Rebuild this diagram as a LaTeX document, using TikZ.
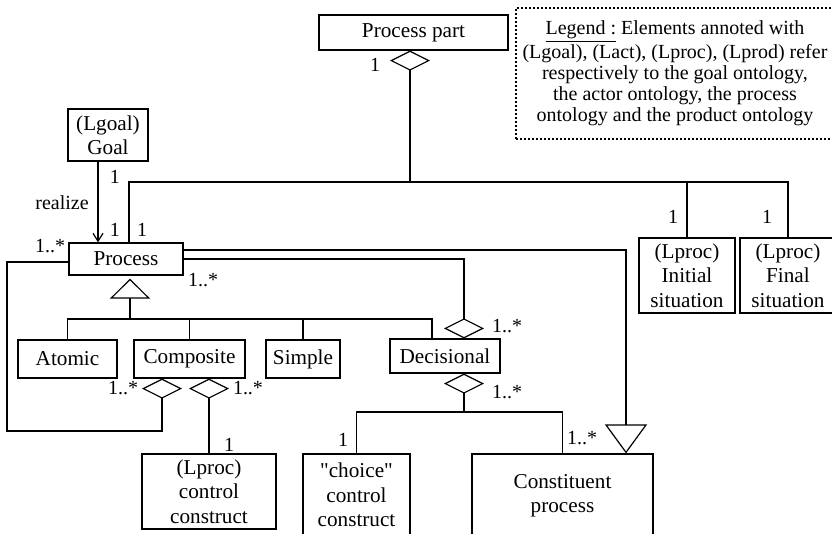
\documentclass[tikz,border=0pt]{standalone}
\usepackage{fontspec}
\setmainfont{Liberation Serif}
\usetikzlibrary{arrows.meta}

\begin{document}
\begin{tikzpicture}[x=0.5pt,y=-0.5pt,line width=0.6pt,
 font=\fontsize{10}{12.2}\selectfont,
 cls/.style={draw,align=center,inner sep=0pt,font=\fontsize{10.6}{12.2}\selectfont},
 mult/.style={inner sep=0pt},
 agg/.style={-{Diamond[open,length=10pt,width=20pt]}},
 gen/.style={-{Triangle[open,length=10pt,width=20pt]}}]
\clip (0,0) rectangle (832,534);
% classes
\node[cls,minimum width=94.5pt,minimum height=17.5pt] (part) at (413.5,32.5) {Process part};
\node[cls,minimum width=40pt,minimum height=26pt] (goal) at (108,135) {(Lgoal)\\Goal};
\node[cls,minimum width=57pt,minimum height=16pt] (proc) at (126,259) {Process};
\node[cls,minimum width=48pt,minimum height=37.5pt] (initial) at (687,275.5) {(Lproc)\\Initial\\situation};
\node[cls,minimum width=48pt,minimum height=37.5pt] (final) at (788,275.5) {(Lproc)\\Final\\situation};
\node[cls,minimum width=49.5pt,minimum height=19pt] (atomic) at (67.5,359) {Atomic};
\node[cls,minimum width=55.5pt,minimum height=19pt] (composite) at (189.5,359) {Composite};
\node[cls,minimum width=37pt,minimum height=19pt] (simple) at (303,359) {Simple};
\node[cls,minimum width=55pt,minimum height=17pt] (decisional) at (445,356) {Decisional};
\node[cls,minimum width=67pt,minimum height=37.5pt] (lproc) at (209,491.5) {(Lproc)\\control\\construct};
\node[cls,minimum width=53.5pt,minimum height=41pt] (choice) at (356.5,495) {\textquotedbl choice\textquotedbl\\control\\construct};
\node[cls,minimum width=90.5pt,minimum height=42pt] (constituent) at (562.5,496) {Constituent\\process};

% legend
\node[cls,dash pattern=on 1pt off 1pt,minimum width=159pt,minimum height=65.5pt,
 font=\fontsize{10}{10.5}\selectfont] (legend) at (675,73.5)
 {\underline{Legend :} Elements annoted with\\(Lgoal), (Lact), (Lproc), (Lprod) refer\\
 respectively to the goal ontology,\\the actor ontology, the process\\ontology and the product ontology};

% parts of Process part
\coordinate (bus) at (410,182);
\draw[agg] (bus) -- (bus |- part.south);
\draw ([xshift=1.5pt]proc.north) |- (bus) -| (final.north);
\draw (initial.north) -- (initial.north |- bus);

% realize
\draw[-{Straight Barb[length=4pt,width=5pt]}] ([xshift=-5pt]goal.south) -- ([xshift=-5pt]goal.south |- proc.north);
\node[mult] (realize) at (62,203) {realize};

% links leaving Process
\draw[-{Triangle[open,length=14.5pt,width=21pt]}] ([yshift=4.5pt]proc.east) -| ([xshift=31.75pt]constituent.north);
\draw[agg] (proc.east) -| ([xshift=9.5pt]decisional.north);
\draw[agg] ([yshift=-1.5pt]proc.west) -| (7,431) -| ([xshift=-13.75pt]composite.south);
\draw[agg] (lproc.north) -- (lproc.north |- composite.south);

% specialisations of Process
\coordinate (spec) at (130,319);
\draw[gen,shorten >=1.5pt] (spec) -- (spec |- proc.south);
\draw (atomic.north) -- (atomic.north |- spec) -| ([xshift=-6.5pt]decisional.north);
\draw (composite.north) -- (composite.north |- spec);
\draw (simple.north) -- (simple.north |- spec);

% Decisional
\coordinate (dbus) at (464,412);
\draw[agg] (dbus) -- (dbus |- decisional.south);
\draw (choice.north) |- (dbus) -| (constituent.north);

% multiplicities
\node[mult] (m1) at (375,65) {1};
\node[mult] (m2) at (115,177) {1};
\node[mult] (m3) at (115,230) {1};
\node[mult] (m4) at (142,230) {1};
\node[mult] (m5) at (50,246) {1..*};
\node[mult] (m6) at (203,280) {1..*};
\node[mult] (m7) at (507,326) {1..*};
\node[mult] (m8) at (507,392) {1..*};
\node[mult] (m9) at (123,388) {1..*};
\node[mult] (m10) at (248,388) {1..*};
\node[mult] (m11) at (229,445) {1};
\node[mult] (m12) at (343,440) {1};
\node[mult] (m13) at (582,438) {1..*};
\node[mult] (m14) at (673,217) {1};
\node[mult] (m15) at (767,217) {1};
\end{tikzpicture}
\end{document}
